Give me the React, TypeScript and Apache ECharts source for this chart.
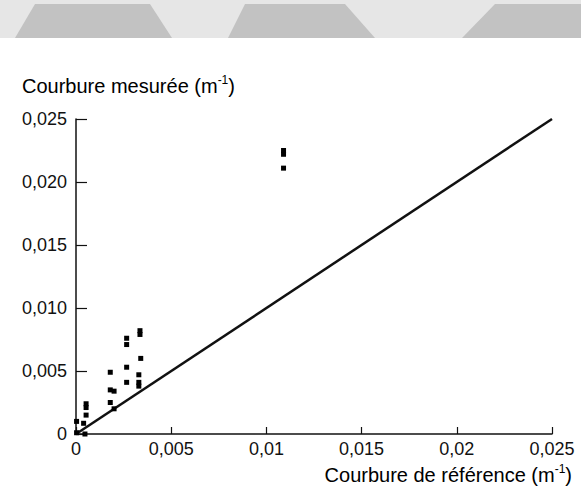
import React, { useEffect, useRef } from "react";
import * as echarts from "echarts";

// Reference curvature (x) and measured curvature (y), m^-1
const refX = [
  0.00003, 0.0004, 0.00003, 0.00047, 0.00053, 0.00053, 0.00053,
  0.0018, 0.0018, 0.002, 0.0018, 0.002,
  0.00266, 0.00266, 0.00266, 0.00266,
  0.00336, 0.00336, 0.0034, 0.0033, 0.0033, 0.0033,
  0.0109, 0.0109, 0.0109,
];
const measY = [
  0.001, 0.00085, 0.0001, 0.0, 0.0024, 0.0021, 0.0015,
  0.0049, 0.0035, 0.0034, 0.0025, 0.002,
  0.0076, 0.0071, 0.0053, 0.0041,
  0.0082, 0.0079, 0.006, 0.0047, 0.0041, 0.0038,
  0.0225, 0.0222, 0.0211,
];
const identityLine = [0, 0.025];
const xTickLabels = ["0", "0,005", "0,01", "0,015", "0,02", "0,025"];
const yTickLabels = ["0", "0,005", "0,010", "0,015", "0,020", "0,025"];
const yTitle = "Courbure mesurée (m";
const xTitle = "Courbure de référence (m";

const FONT = "Liberation Sans, Arial, sans-serif";

export default function App() {
  const ref = useRef<HTMLDivElement>(null);
  useEffect(() => {
    if (!ref.current) return;
    const chart = echarts.init(ref.current, null, { renderer: "svg" });
    const rich = {
      b: { fontSize: 20, fontFamily: FONT, color: "#111" },
      s: { fontSize: 12, fontFamily: FONT, color: "#111", padding: [0, 0, 12, 0] },
    };
    chart.setOption({
      animation: false,
      backgroundColor: "#fff",
      grid: { left: 76, right: 29, top: 119, bottom: 58, containLabel: false },
      xAxis: {
        type: "value",
        min: 0,
        max: 0.025,
        interval: 0.005,
        axisLine: { lineStyle: { color: "#111", width: 1.5 } },
        axisTick: { inside: true, length: 7, lineStyle: { color: "#111", width: 1.2 } },
        splitLine: { show: false },
        axisLabel: {
          margin: 6,
          fontSize: 18,
          fontFamily: FONT,
          color: "#111",
          formatter: (_v: number, i: number) => xTickLabels[i],
        },
      },
      yAxis: {
        type: "value",
        min: 0,
        max: 0.025,
        interval: 0.005,
        axisLine: { lineStyle: { color: "#111", width: 1.5 } },
        axisTick: { inside: true, length: 11, lineStyle: { color: "#111", width: 1.2 } },
        splitLine: { show: false },
        axisLabel: {
          margin: 9,
          fontSize: 18,
          fontFamily: FONT,
          color: "#111",
          formatter: (_v: number, i: number) => yTickLabels[i],
        },
      },
      graphic: [
        { type: "rect", shape: { x: 0, y: 0, width: 581, height: 38 }, style: { fill: "#e6e6e6" }, silent: true },
        { type: "polygon", shape: { points: [[35, 4], [150, 4], [172, 38], [15, 38]] }, style: { fill: "#c2c2c2" }, silent: true },
        { type: "polygon", shape: { points: [[245, 4], [345, 4], [375, 38], [228, 38]] }, style: { fill: "#c2c2c2" }, silent: true },
        { type: "polygon", shape: { points: [[495, 4], [581, 4], [581, 38], [462, 38]] }, style: { fill: "#c2c2c2" }, silent: true },
        {
          type: "text",
          left: 22,
          top: 74,
          style: { text: "{b|" + yTitle + "}{s|-1}{b|)}", rich },
        },
        {
          type: "text",
          right: 9,
          top: 463,
          style: { text: "{b|" + xTitle + "}{s|-1}{b|)}", rich },
        },
      ],
      series: [
        {
          type: "line",
          data: [
            [identityLine[0], identityLine[0]],
            [identityLine[1], identityLine[1]],
          ],
          showSymbol: false,
          lineStyle: { color: "#111", width: 2.5 },
          z: 2,
        },
        {
          type: "scatter",
          data: refX.map((x, i) => [x, measY[i]]),
          symbol: "rect",
          symbolSize: [5, 5],
          itemStyle: { color: "#000", opacity: 1 },
          z: 3,
        },
      ],
    });
    return () => chart.dispose();
  }, []);
  return <div ref={ref} style={{ width: 581, height: 492, position: "absolute", left: 0, top: 0 }} />;
}
